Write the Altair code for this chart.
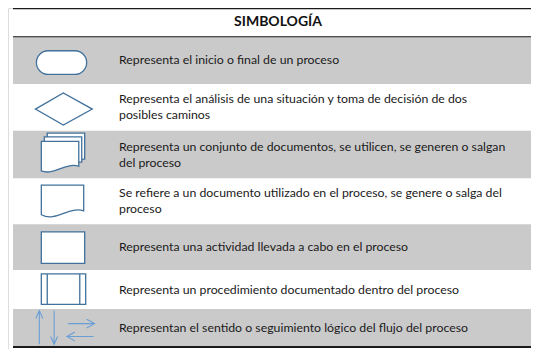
import altair as alt
import pandas as pd

# ---------------- data ----------------
title = "SIMBOLOGÍA"
symbols = ["terminal", "decision", "multidoc", "document", "process", "predefined", "arrows"]
descriptions = [
    "Representa el inicio o final de un proceso",
    "Representa el análisis  de una situación y toma de decisión de dos\nposibles caminos",
    "Representa un conjunto de documentos, se utilicen, se generen o salgan\ndel proceso",
    "Se refiere a un documento utilizado en el proceso, se genere o salga del\nproceso",
    "Representa una actividad llevada a cabo en el proceso",
    "Representa un procedimiento documentado dentro del proceso",
    "Representan el sentido o seguimiento lógico del flujo del proceso",
]

# ---------------- layout / style ----------------
W, H = 523, 341
X_DOMAIN = [8, 8 + W]
Y_DOMAIN = [5, 355]
TABLE_LEFT, TABLE_RIGHT = 13, 8 + W
TOP, HEADER_BOTTOM = 5, 34.5
row_heights = [48.5, 48, 49, 47, 47, 40, 39.5]
SYMBOL_X, TEXT_X, HEADER_X = 63, 119, 278
LINE_H = 16.5
GRAY, WHITE = "#cacaca", "#ffffff"
SHAPE_BLUE, ARROW_BLUE = "#41719c", "#6a9fd6"
FONT = "Lato"
yk = H / (Y_DOMAIN[1] - Y_DOMAIN[0])

# symbol outlines, in a [-1, 1] box (1 unit = 30 px with size 3600)
shape_paths = {
    "terminal": "M -0.5 -0.325 L 0.4 -0.325 A 0.4 0.4 0 0 1 0.4 0.475 L -0.5 0.475 A 0.4 0.4 0 0 1 -0.5 -0.325 Z",
    "decision": "M -0.933 0.057 L 0.01 -0.49 L 0.99 0.057 L 0.01 0.6 Z",
    "multidoc": ("M -0.533 -0.6 L -0.533 -0.73 L 0.733 -0.73 L 0.733 0.15 L 0.633 0.15 L 0.633 -0.6 Z "
                 "M -0.633 -0.45 L -0.633 -0.6 L 0.633 -0.6 L 0.633 0.25 L 0.533 0.25 L 0.533 -0.45 Z "
                 "M -0.733 -0.45 L 0.533 -0.45 L 0.533 0.393 C 0.1 0.25 -0.3 0.72 -0.733 0.55 Z"),
    "document": "M -0.733 -0.55 L 0.7 -0.55 L 0.7 0.317 C 0.2 0.15 -0.25 0.72 -0.733 0.45 Z",
    "process": "M -0.733 -0.517 L 0.733 -0.517 L 0.733 0.55 L -0.733 0.55 Z",
    "predefined": ("M -0.733 -0.533 L 0.767 -0.533 L 0.767 0.5 L -0.733 0.5 Z "
                   "M -0.533 -0.533 L -0.533 0.5 M 0.567 -0.533 L 0.567 0.5"),
    "arrows": ("M -0.8 0.54 L -0.8 -0.6 M -0.917 -0.333 L -0.8 -0.6 L -0.683 -0.333 "
               "M -0.3 -0.6 L -0.3 0.54 M -0.417 0.275 L -0.3 0.54 L -0.183 0.275 "
               "M 0.167 -0.158 L 1.067 -0.158 M 0.8 -0.308 L 1.067 -0.158 L 0.8 -0.008 "
               "M 1.033 0.275 L 0.133 0.275 M 0.4 0.125 L 0.133 0.275 L 0.4 0.425"),
}

# ---------------- tables ----------------
tops, y = [], HEADER_BOTTOM
for h in row_heights:
    tops.append(y)
    y += h
rows = pd.DataFrame({
    "symbol": symbols,
    "desc": descriptions,
    "y0": tops,
    "y1": [t + h for t, h in zip(tops, row_heights)],
    "fill": [GRAY if i % 2 == 0 else WHITE for i in range(len(symbols))],
    "x0": TABLE_LEFT, "x1": TABLE_RIGHT,
    "sx": SYMBOL_X, "tx": TEXT_X,
})
rows["yc"] = (rows["y0"] + rows["y1"]) / 2
rows["nl"] = [d.count("\n") + 1 for d in descriptions]
rows["ty"] = rows["yc"] - (rows["nl"] - 1) * LINE_H / 2

rules = pd.DataFrame({"y": [TOP + 0.5, HEADER_BOTTOM, y - 0.5], "w": [1.6, 1.2, 2.0],
                      "x0": TABLE_LEFT, "x1": TABLE_RIGHT})
header = pd.DataFrame({"t": [title], "x": [HEADER_X], "y": [(TOP + HEADER_BOTTOM) / 2]})

xs = alt.Scale(domain=X_DOMAIN, nice=False, zero=False)
ys = alt.Scale(domain=Y_DOMAIN, nice=False, zero=False, reverse=True)
X = lambda f: alt.X(f, type="quantitative", scale=xs, axis=None)
Y = lambda f: alt.Y(f, type="quantitative", scale=ys, axis=None)

base_rows = alt.Chart(rows)

bands = base_rows.mark_rect().encode(
    x=X("x0"), x2="x1", y=Y("y0"), y2="y1",
    fill=alt.Fill("fill:N", scale=None),
)

lines = alt.Chart(rules).mark_rule(color="#1a1a1a").encode(
    x=X("x0"), x2="x1", y=Y("y"),
    strokeWidth=alt.StrokeWidth("w:Q", scale=None),
)

head = alt.Chart(header).mark_text(
    font=FONT, fontSize=14, fontWeight="bold", color="#111111", align="center", baseline="middle"
).encode(x=X("x"), y=Y("y"), text="t:N")

texts = base_rows.mark_text(
    font=FONT, fontSize=12.3, color="#1a1a1a", align="left", baseline="middle",
    lineBreak="\n", lineHeight=LINE_H * yk,
).encode(x=X("tx"), y=Y("ty"), text="desc:N")

shape_enc = alt.Shape("symbol:N", legend=None,
                      scale=alt.Scale(domain=symbols, range=[shape_paths[s] for s in symbols]))

shapes = base_rows.transform_filter(alt.datum.symbol != "arrows").mark_point(
    fill="white", stroke=SHAPE_BLUE, strokeWidth=1.3, opacity=1, fillOpacity=1, size=3500,
).encode(x=X("sx"), y=Y("yc"), shape=shape_enc)

arrows = base_rows.transform_filter(alt.datum.symbol == "arrows").mark_point(
    fill="transparent", stroke=ARROW_BLUE, strokeWidth=1.1, opacity=1, size=3500,
).encode(x=X("sx"), y=Y("yc"), shape=shape_enc)

chart = alt.layer(bands, lines, head, texts, shapes, arrows).properties(
    width=W, height=H, padding=0, autosize=alt.AutoSizeParams(type="none"),
).configure_view(strokeWidth=0).configure(background="white")

chart.save("out.html", embed_options={"renderer": "svg", "actions": False})
